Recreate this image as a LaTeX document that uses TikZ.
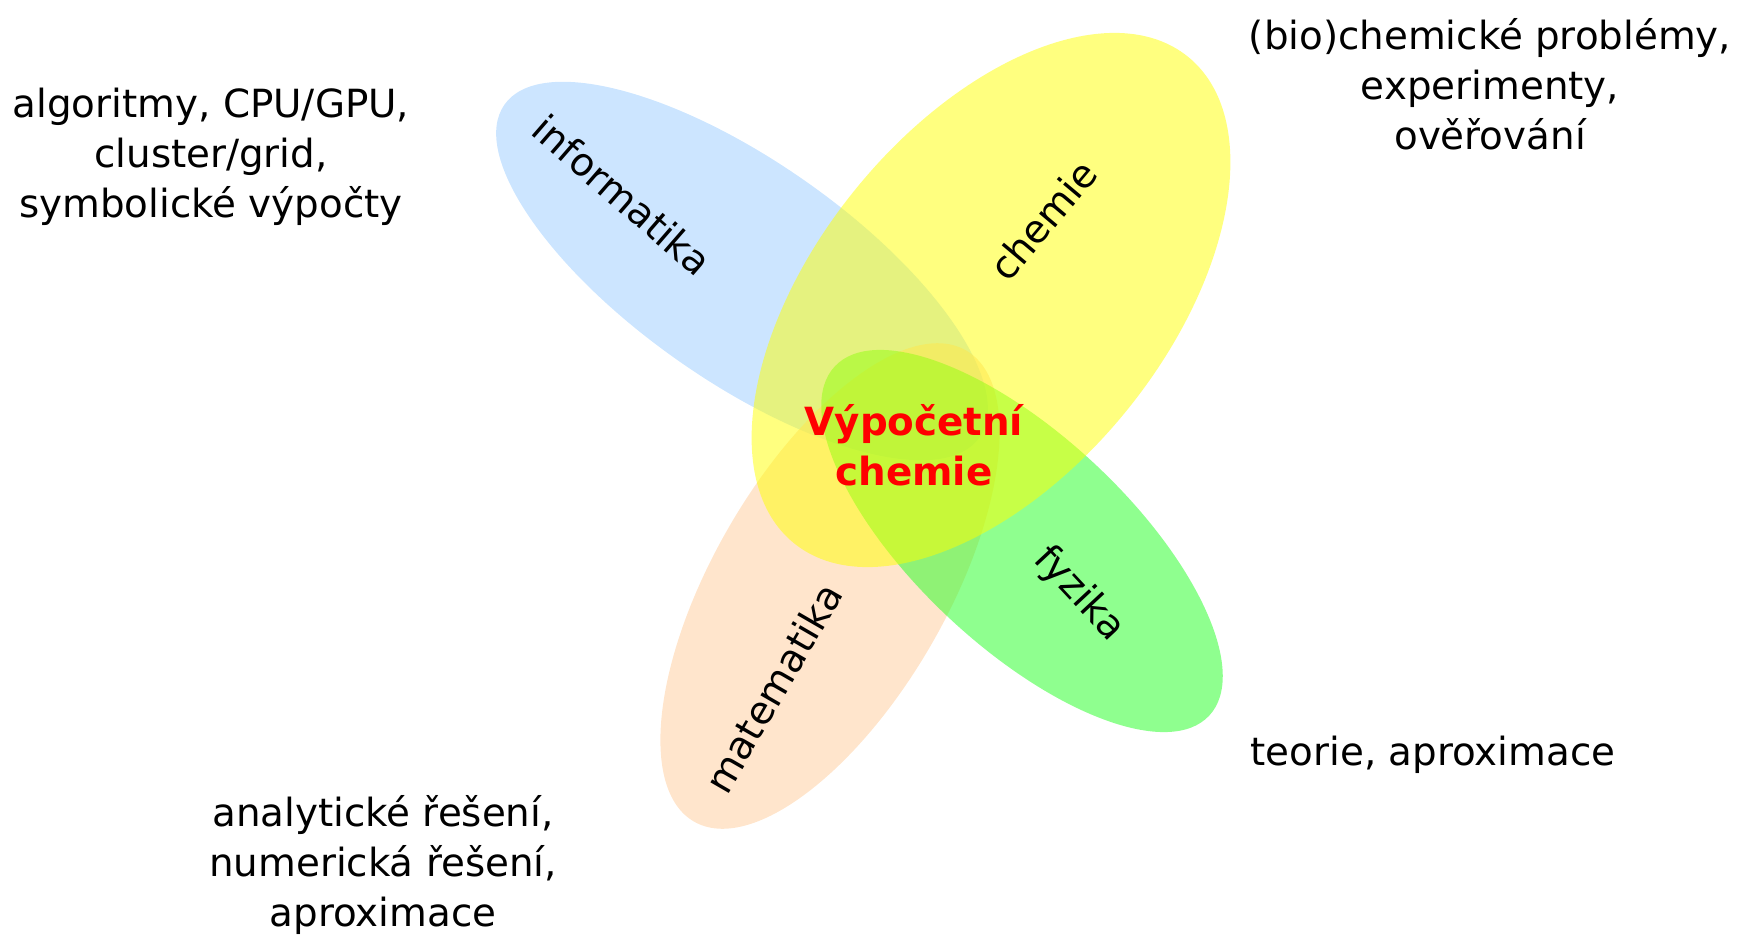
\documentclass[tikz,border=0pt]{standalone}
\usepackage{fontspec}
\setmainfont{DejaVu Sans}
\definecolor{cblue}{RGB}{153,204,255}
\definecolor{cpeach}{RGB}{255,204,153}
\definecolor{cgreen}{RGB}{32,255,32}
\definecolor{cyellow}{RGB}{255,255,0}
\begin{document}
\begin{tikzpicture}[x=0.5pt,y=-0.5pt,
  lbl/.style={font=\fontsize{19.4}{25}\selectfont, align=center, inner sep=0pt},
  inl/.style={font=\fontsize{19.4}{25}\selectfont, inner sep=0pt},
  ctr/.style={font=\fontsize{19.4}{25}\selectfont\bfseries, text=red, align=center, inner sep=0pt},
  blob/.style={fill opacity=0.5}]
\useasboundingbox (0,0) rectangle (1740,936);
% ellipses
\fill[cblue, blob, rotate around={-35:(742,271)}] (742,271) ellipse [x radius=290, y radius=110];
\fill[cpeach, blob, rotate around={60:(830,586)}] (830,586) ellipse [x radius=272, y radius=117];
\fill[cgreen, blob, rotate around={-43:(1022,541)}] (1022,541) ellipse [x radius=256, y radius=106];
\fill[cyellow, blob, rotate around={51:(991,300)}] (991,300) ellipse [x radius=313, y radius=175];
% labels in ellipses
\node[inl, rotate=-41] (inf) at (622,195) {informatika};
\node[inl, rotate=50] (che) at (1043,220) {chemie};
\node[inl, rotate=-47] (fyz) at (1079,594) {fyzika};
\node[inl, rotate=60] (mat) at (773,688) {matematika};
\node[ctr] (vc) at (914,445) {Výpočetní\\chemie};
% outer labels
\node[lbl] (tinf) at (211,157) {algoritmy, CPU/GPU,\\cluster/grid,\\symbolické výpočty};
\node[lbl] (tche) at (1490,84) {(bio)chemické problémy,\\experimenty,\\ověřování};
\node[inl] (tfyz) at (1433,755) {teorie, aproximace};
\node[lbl] (tmat) at (383,865) {analytické řešení,\\numerická řešení,\\aproximace};
\end{tikzpicture}
\end{document}
